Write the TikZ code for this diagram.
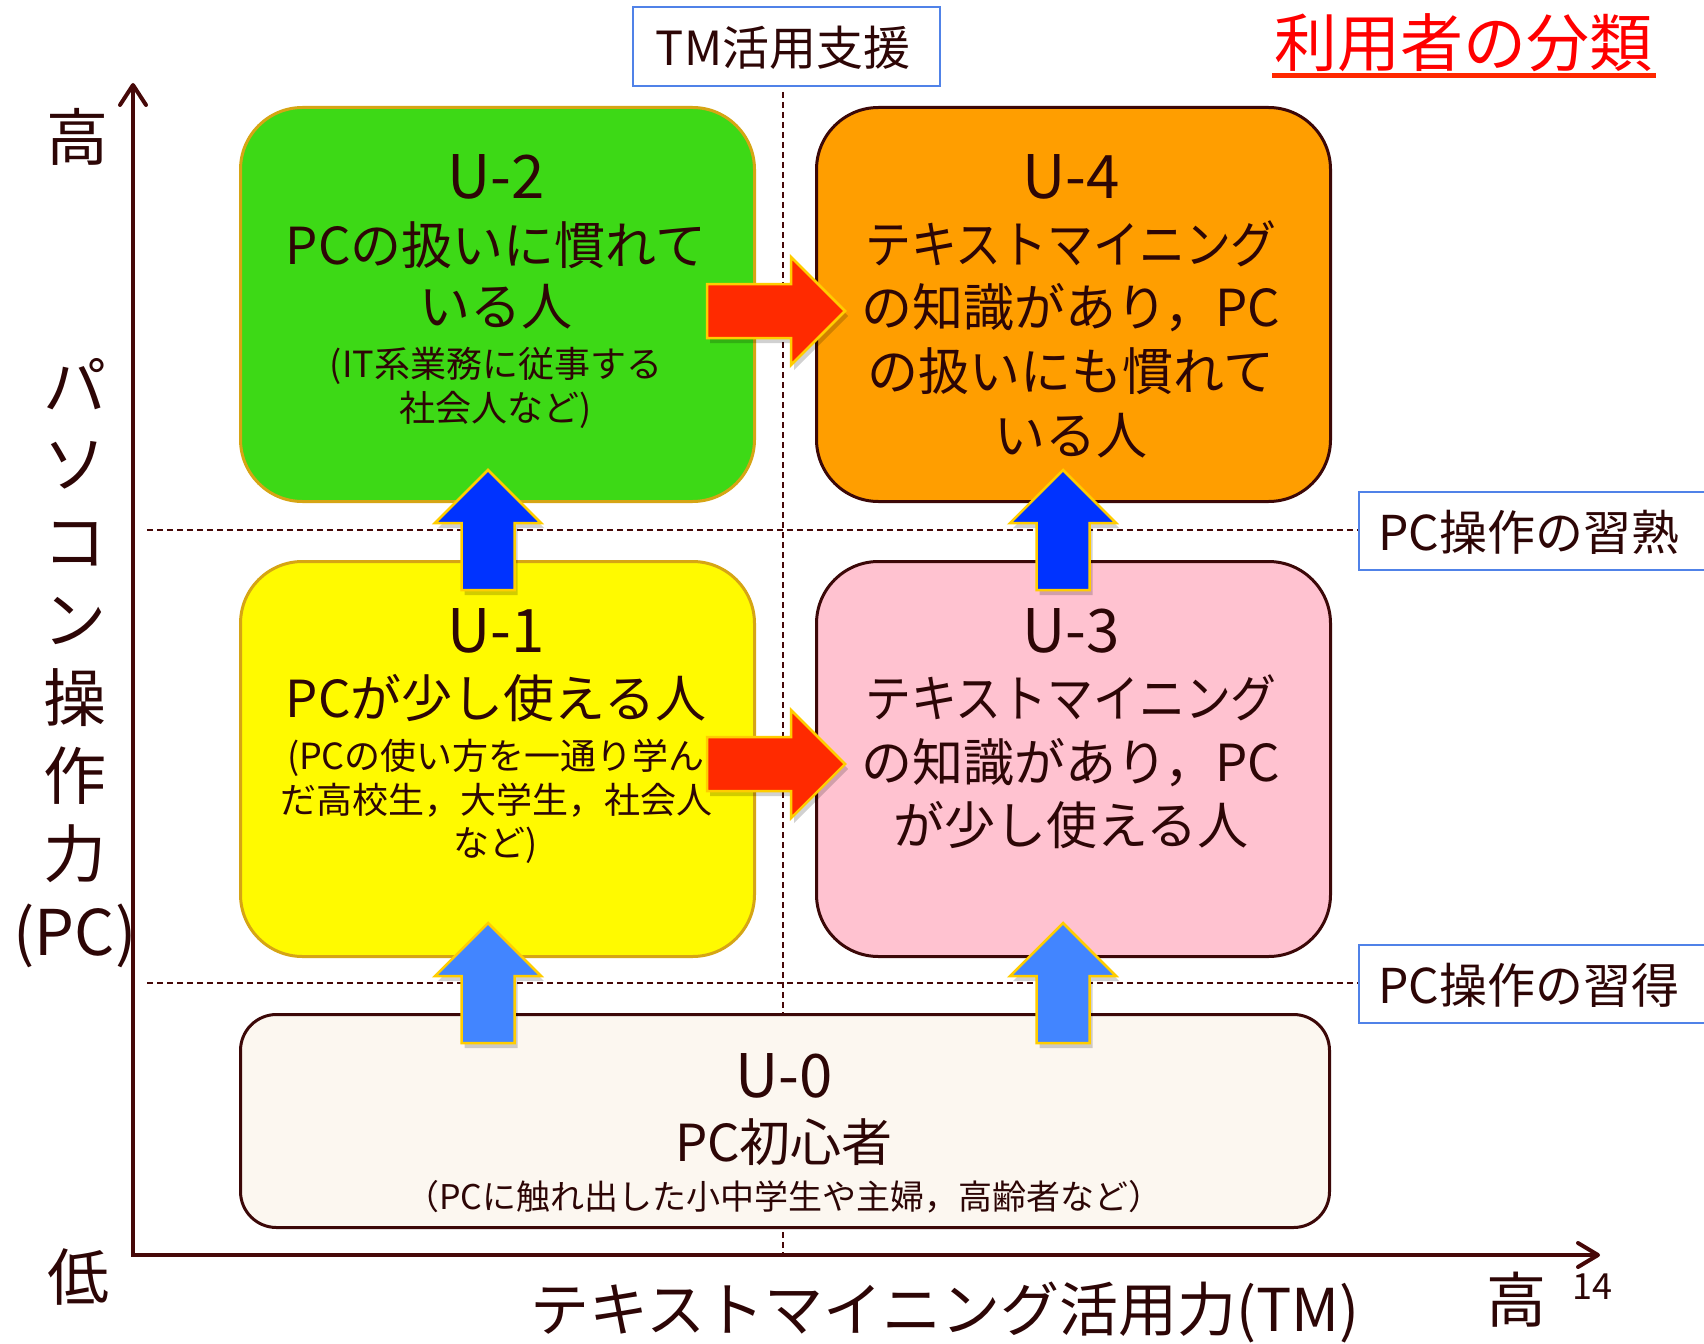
\documentclass[tikz,border=0pt]{standalone}
\usepackage{fontspec}
\setmainfont{Noto Sans CJK JP}
\usepackage{graphicx}
\usetikzlibrary{arrows.meta}
\definecolor{ink}{RGB}{45,6,6}
\definecolor{axisc}{RGB}{70,8,8}
\definecolor{ugreen}{RGB}{61,217,22}
\definecolor{uorange}{RGB}{255,158,0}
\definecolor{uyellow}{RGB}{255,250,0}
\definecolor{upink}{RGB}{255,194,208}
\definecolor{ubeige}{RGB}{252,247,240}
\definecolor{goldb}{RGB}{214,165,20}
\definecolor{brownb}{RGB}{60,8,8}
\definecolor{arrred}{RGB}{255,42,0}
\definecolor{arrgold}{RGB}{255,205,0}
\definecolor{darkblue}{RGB}{0,51,255}
\definecolor{lightblue}{RGB}{66,133,255}
\definecolor{lblue}{RGB}{80,130,232}
\definecolor{titlered}{RGB}{255,0,0}
\definecolor{ulinered}{RGB}{255,40,0}
\newcommand{\fsz}[1]{\fontsize{#1}{#1}\selectfont}
\begin{document}
\begin{tikzpicture}[x=1pt,y=-1pt,
  ubox/.style={rounded corners=62pt, line width=3pt, minimum width=514pt, minimum height=394pt, anchor=north west, inner sep=0pt},
  txt/.style={anchor=base, inner sep=0pt, text=ink},
  head/.style={txt, font=\fsz{60}},
  main/.style={txt, font=\fsz{51}},
  sub/.style={txt, font=\fsz{36}},
  lbox/.style={draw=lblue, line width=2pt, fill=white, anchor=north west, inner sep=0pt},
  axisline/.style={draw=axisc, line width=4pt, line join=miter},
  vdash/.style={draw=axisc, line width=1.5pt, dash pattern=on 6pt off 4pt},
  hdash/.style={draw=axisc, line width=2pt, dash pattern=on 6pt off 4pt},
  pics/uparr/.style={code={
    \fill[black,opacity=0.18,xshift=3pt,yshift=-5pt] (0,0) -- (53,53) -- (26.5,53) -- (26.5,120) -- (-26.5,120) -- (-26.5,53) -- (-53,53) -- cycle;
    \draw[draw=arrgold,line width=2.5pt,fill=#1,line join=miter] (0,0) -- (53,53) -- (26.5,53) -- (26.5,120) -- (-26.5,120) -- (-26.5,53) -- (-53,53) -- cycle;
  }},
  pics/rtarr/.style={code={
    \fill[black,opacity=0.18,xshift=3pt,yshift=-5pt] (0,0) -- (-54,54) -- (-54,27) -- (-138,27) -- (-138,-27) -- (-54,-27) -- (-54,-54) -- cycle;
    \draw[draw=arrgold,line width=2.5pt,fill=#1,line join=miter] (0,0) -- (-54,54) -- (-54,27) -- (-138,27) -- (-138,-27) -- (-54,-27) -- (-54,-54) -- cycle;
  }}
]
\useasboundingbox (0,0) rectangle (1704,1343);
\fill[white] (0,0) rectangle (1704,1343);

% guide lines
\coordinate (vtop) at (783,92);
\coordinate (vbot) at (783,1255);
\draw[vdash] (vtop) -- (vbot);
\coordinate (h1l) at (147,530);
\coordinate (h1r) at (1358,530);
\coordinate (h2l) at (147,983);
\coordinate (h2r) at (1358,983);
\draw[hdash] (h1l) -- (h1r);
\draw[hdash] (h2l) -- (h2r);

% axes
\coordinate (ytip) at (133,83);
\coordinate (orig) at (133,1255);
\coordinate (xtip) at (1600,1255);
\draw[axisline, {Straight Barb[length=20pt,width=26pt,round]}-{Straight Barb[length=20pt,width=24pt,round]}] (ytip) -- (orig) -- (xtip);

% boxes
\node[ubox, fill=ugreen, draw=goldb] (u2) at (239,106) {};
\node[ubox, fill=uorange, draw=brownb] (u4) at (815,106) {};
\node[ubox, fill=uyellow, draw=goldb, minimum height=395pt] (u1) at (239,560) {};
\node[ubox, fill=upink, draw=brownb, minimum height=395pt] (u3) at (815,560) {};
\node[ubox, fill=ubeige, draw=brownb, rounded corners=36pt, minimum width=1089pt, minimum height=213pt] (u0) at (239,1013) {};

% U-2 text
\node[head] (u2h) at (496,198) {U-2};
\node[main] (u2a) at (496,264.5) {PCの扱いに慣れて};
\node[main] (u2b) at (496,325.5) {いる人};
\node[sub] (u2c) at (496,377.5) {(IT系業務に従事する};
\node[sub] (u2d) at (496,421.5) {社会人など)};

% U-4 text
\node[head] (u4h) at (1071,198) {U-4};
\node[main] (u4a) at (1071,263.5) {\scalebox{0.9}[1]{テキストマイニング}};
\node[main] (u4b) at (1071,326.5) {の知識があり，PC};
\node[main] (u4c) at (1071,390.5) {の扱いにも慣れて};
\node[main] (u4d) at (1071,454.5) {いる人};

% U-1 text
\node[head] (u1h) at (496,652) {U-1};
\node[main] (u1a) at (496,717.5) {PCが少し使える人};
\node[sub] (u1b) at (496,769.5) {(PCの使い方を一通り学ん};
\node[sub] (u1c) at (496,813.5) {だ高校生，大学生，社会人};
\node[sub] (u1d) at (496,856.5) {など)};

% U-3 text
\node[head] (u3h) at (1071,652) {U-3};
\node[main] (u3a) at (1071,717.5) {\scalebox{0.9}[1]{テキストマイニング}};
\node[main] (u3b) at (1071,781.5) {の知識があり，PC};
\node[main] (u3c) at (1071,844.5) {が少し使える人};

% U-0 text
\node[head] (u0h) at (784,1097) {U-0};
\node[main] (u0a) at (784,1161.5) {PC初心者};
\node[txt, font=\fsz{34}] (u0b) at (784,1209.5) {（PCに触れ出した小中学生や主婦，高齢者など）};

% label boxes
\node[lbox, minimum width=307pt, minimum height=78.5pt] (tmbox) at (632,6.5) {};
\node[txt, font=\fsz{47}] (tmtext) at (783,66) {TM活用支援};
\node[lbox, minimum width=354pt, minimum height=78pt] (pc2box) at (1358,491) {};
\node[txt, anchor=base west, font=\fsz{48}] (pc2text) at (1378,550) {PC操作の習熟};
\node[lbox, minimum width=354pt, minimum height=78pt] (pc1box) at (1358,944) {};
\node[txt, anchor=base west, font=\fsz{48}] (pc1text) at (1378,1003) {PC操作の習得};

% title
\node[anchor=base, inner sep=0pt, text=titlered, font=\fsz{63}] (title) at (1463,66.5) {利用者の分類};
\draw[ulinered, line width=5pt] (1272,75.8) -- (1656,75.8);

% axis labels
\node[txt, font=\fsz{62}] (yhigh) at (77,160.5) {高};
\foreach \ch [count=\i from 0] in {パ,ソ,コ,ン,操,作,力,(PC)} {
  \node[txt, font=\fsz{63}] (yl\i) at (75,{409.5+78*\i}) {\ch};
}
\node[txt, font=\fsz{62}] (ylow) at (78,1300.5) {低};
\node[txt, font=\fsz{59}] (xlab) at (945,1331.5) {テキストマイニング活用力(TM)};
\node[txt, font=\fsz{60}] (xhigh) at (1516,1322) {高};
\node[txt, font=\fsz{36}] (pnum) at (1592,1299) {14};

% block arrows
\pic at (845,311) {rtarr=arrred};
\pic at (845,764) {rtarr=arrred};
\pic at (488,470) {uparr=darkblue};
\pic at (1063,470) {uparr=darkblue};
\pic at (488,923) {uparr=lightblue};
\pic at (1063,923) {uparr=lightblue};
\end{tikzpicture}
\end{document}
